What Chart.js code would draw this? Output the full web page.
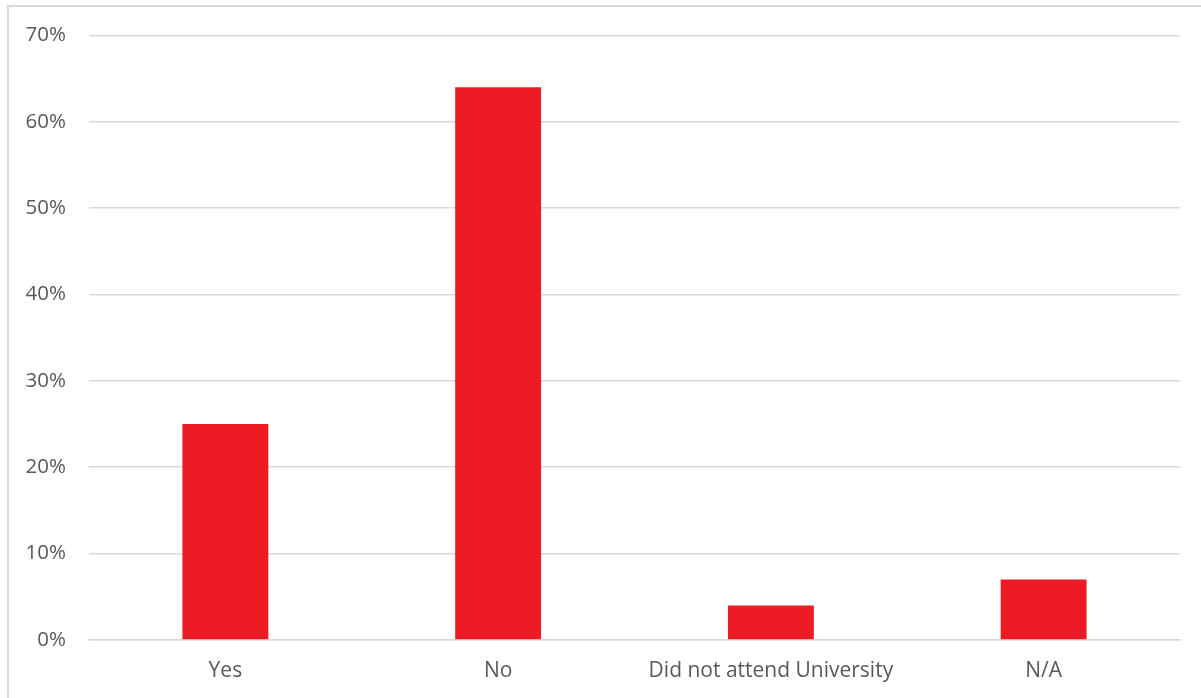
<!DOCTYPE html>
<html>
<head>
<meta charset="utf-8">
<script src="https://cdn.jsdelivr.net/npm/chart.js@4/dist/chart.umd.min.js"></script>
<style>
html,body{margin:0;padding:0;background:#fff;overflow:hidden;}
#wrap{position:absolute;left:0;top:0;width:1201px;height:698px;}
</style>
</head>
<body>
<div id="wrap"><canvas id="c" width="1201" height="698"></canvas></div>
<script>
const categories = ["Yes", "No", "Did not attend University", "N/A"];
const values = [25, 64, 4, 7];
const yTicks = [0, 10, 20, 30, 40, 50, 60, 70];

const borderPlugin = {
  id: 'outerBorder',
  beforeDraw(chart) {
    const ctx = chart.ctx;
    ctx.save();
    ctx.fillStyle = '#fff';
    ctx.fillRect(0, 0, chart.width, chart.height);
    ctx.strokeStyle = '#d9d9d9';
    ctx.lineWidth = 2;
    ctx.strokeRect(8, 6, 1400, 900);
    ctx.restore();
  }
};

new Chart(document.getElementById('c'), {
  type: 'bar',
  data: {
    labels: categories,
    datasets: [{
      data: values,
      backgroundColor: '#ED1C24',
      borderWidth: 0,
      barPercentage: 0.315,
      categoryPercentage: 1.0
    }]
  },
  options: {
    responsive: false,
    animation: false,
    devicePixelRatio: 1,
    layout: { padding: { top: 35, right: 21, left: 0, bottom: 0 } },
    plugins: { legend: { display: false }, tooltip: { enabled: false } },
    scales: {
      x: {
        grid: { display: false, drawTicks: false },
        border: { display: true, color: '#d9d9d9', width: 1.5 },
        ticks: {
          color: '#595959',
          font: { family: 'Open Sans', size: 21 },
          padding: 18,
          maxRotation: 0,
          autoSkip: false
        },
        afterFit(scale) { scale.height = 58; }
      },
      y: {
        min: 0,
        max: 70,
        afterBuildTicks(scale) { scale.ticks = yTicks.map(v => ({ value: v })); },
        grid: { color: '#d9d9d9', lineWidth: 1.5, drawTicks: false },
        border: { display: false },
        ticks: {
          color: '#595959',
          font: { family: 'Open Sans', size: 20.5 },
          padding: 23,
          callback: v => v + '%'
        },
        afterFit(scale) { scale.width = 89; }
      }
    }
  },
  plugins: [borderPlugin]
});
</script>
</body>
</html>
